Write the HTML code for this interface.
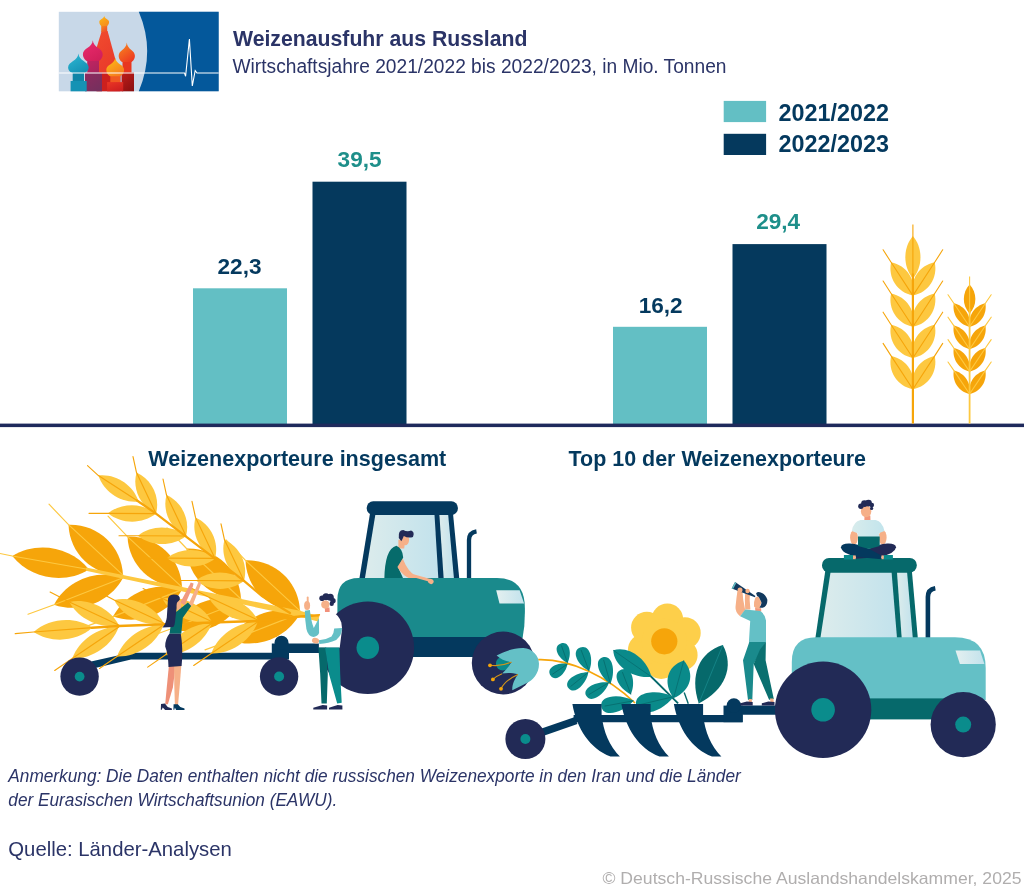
<!DOCTYPE html>
<html lang="de"><head><meta charset="utf-8"><title>Weizenausfuhr aus Russland</title>
<style>
html,body{margin:0;padding:0;background:#fff}
body{width:1024px;height:893px;overflow:hidden}
svg{display:block}
text{font-family:"Liberation Sans",sans-serif}
.b{font-weight:bold}
.i{font-style:italic}
</style></head><body>
<svg width="1024" height="893" viewBox="0 0 1024 893">
<defs>
<linearGradient id="glass" x1="0" x2="1" y1="0" y2="0"><stop offset="0" stop-color="#dcecec"/><stop offset="1" stop-color="#c2e2ec"/></linearGradient>
<linearGradient id="lamp" x1="0" x2="1" y1="0" y2="0"><stop offset="0" stop-color="#e4f0f0"/><stop offset="1" stop-color="#c2e2ec"/></linearGradient>
<linearGradient id="shirt" x1="0" x2="1" y1="0" y2="0"><stop offset="0" stop-color="#d8ecec"/><stop offset="1" stop-color="#c2e4ec"/></linearGradient>
</defs>
<rect width="1024" height="893" fill="#fff"/>

<rect x="58.8" y="11.8" width="159.9" height="79.5" fill="#c8d8e8"/>
<path d="M138.8,11.8Q155.6,51.5 138.8,91.3L218.7,91.3L218.7,11.8Z" fill="#04589b"/>
<defs><linearGradient id="gC" x1="0.2" y1="0" x2="0.8" y2="1"><stop offset="0" stop-color="#fdb714"/><stop offset="1" stop-color="#f58a1f"/></linearGradient><linearGradient id="gN" x1="0.2" y1="0" x2="0.8" y2="1"><stop offset="0" stop-color="#f58a1f"/><stop offset="1" stop-color="#ee4a2c"/></linearGradient><linearGradient id="gS" x1="0.2" y1="0" x2="0.8" y2="1"><stop offset="0" stop-color="#f04a2e"/><stop offset="1" stop-color="#e8382a"/></linearGradient><linearGradient id="gP" x1="0.2" y1="0" x2="0.8" y2="1"><stop offset="0" stop-color="#ea2a6c"/><stop offset="1" stop-color="#d01f5a"/></linearGradient><linearGradient id="gPt" x1="0.2" y1="0" x2="0.8" y2="1"><stop offset="0" stop-color="#c02460"/><stop offset="1" stop-color="#a8245e"/></linearGradient><linearGradient id="gPb" x1="0.2" y1="0" x2="0.8" y2="1"><stop offset="0" stop-color="#8e2a5e"/><stop offset="1" stop-color="#74305e"/></linearGradient><linearGradient id="gT" x1="0.2" y1="0" x2="0.8" y2="1"><stop offset="0" stop-color="#2cb6d2"/><stop offset="1" stop-color="#138eb2"/></linearGradient><linearGradient id="gY" x1="0.2" y1="0" x2="0.8" y2="1"><stop offset="0" stop-color="#fdbc14"/><stop offset="1" stop-color="#f47820"/></linearGradient><linearGradient id="gO" x1="0.2" y1="0" x2="0.8" y2="1"><stop offset="0" stop-color="#f8861e"/><stop offset="1" stop-color="#ec3622"/></linearGradient><linearGradient id="gOb" x1="0.2" y1="0" x2="0.8" y2="1"><stop offset="0" stop-color="#bc1c1a"/><stop offset="1" stop-color="#8c1010"/></linearGradient><linearGradient id="gYb" x1="0.2" y1="0" x2="0.8" y2="1"><stop offset="0" stop-color="#e83424"/><stop offset="1" stop-color="#cc1e20"/></linearGradient></defs>
<polygon points="101.7,31 107.6,31 115.7,60.6 118,73 96.5,73 96.9,46.7" fill="url(#gS)"/>
<rect x="96.5" y="72.5" width="24" height="18.8" fill="#cc201e"/>
<rect x="101.2" y="25" width="6" height="7" fill="url(#gN)"/>
<path d="M104.2,15.8C104.7,19.2 109.1,19.2 109.1,22C109.1,24.8 107.1,26 107.1,26L101.3,26C101.3,26 99.3,24.8 99.3,22C99.3,19.2 103.7,19.2 104.2,15.8Z" fill="url(#gC)"/>
<rect x="122.5" y="61" width="9" height="12" fill="#e8361f"/>
<rect x="121.6" y="72.5" width="12.4" height="18.8" fill="url(#gOb)"/>
<path d="M126.8,42.4C127.3,49.8 134.9,49.8 134.9,55.8C134.9,60.1 131.7,62 131.7,62L121.9,62C121.9,62 118.7,60.1 118.7,55.8C118.7,49.8 126.3,49.8 126.8,42.4Z" fill="url(#gO)"/>
<rect x="87.2" y="60" width="11.8" height="13" fill="url(#gPt)"/>
<rect x="85" y="72.5" width="17" height="18.8" fill="url(#gPb)"/>
<path d="M92.8,40.2C93.3,47.9 102.7,47.9 102.7,54.2C102.7,59 98.7,61 98.7,61L86.9,61C86.9,61 82.9,59 82.9,54.2C82.9,47.9 92.3,47.9 92.8,40.2Z" fill="url(#gP)"/>
<rect x="72.7" y="72" width="11.3" height="9.5" fill="#0f84a6"/>
<rect x="70.6" y="81" width="16.1" height="10.3" fill="#1592b4"/>
<path d="M78.4,53.5C78.9,61.3 88.7,61.3 88.7,67.6C88.7,71.4 84.6,73 84.6,73L72.2,73C72.2,73 68.1,71.4 68.1,67.6C68.1,61.3 77.9,61.3 78.4,53.5Z" fill="url(#gT)"/>
<rect x="110.3" y="75" width="9.7" height="8" fill="#f05a22"/>
<rect x="107.1" y="82.1" width="16.1" height="9.2" fill="url(#gYb)"/>
<path d="M115.2,57.4C115.7,64.2 124.1,64.2 124.1,69.8C124.1,74.3 120.5,76.2 120.5,76.2L109.9,76.2C109.9,76.2 106.3,74.3 106.3,69.8C106.3,64.2 114.7,64.2 115.2,57.4Z" fill="url(#gY)"/>
<polyline points="58.8,73 184.5,73 185.6,76.3 189.4,39 192.3,86 195.2,70.5 197,73 218.7,73" fill="none" stroke="#fff" stroke-width="1.1" stroke-linejoin="miter"/>
<text x="233" y="46.2" font-size="22.6" fill="#2b3467" class="b" textLength="294.5" lengthAdjust="spacingAndGlyphs">Weizenausfuhr aus Russland</text>
<text x="232.5" y="73.3" font-size="20" fill="#2b3467" textLength="494" lengthAdjust="spacingAndGlyphs">Wirtschaftsjahre 2021/2022 bis 2022/2023, in Mio. Tonnen</text>
<text x="148.3" y="466.1" font-size="22.6" fill="#04395e" class="b" textLength="298" lengthAdjust="spacingAndGlyphs">Weizenexporteure insgesamt</text>
<text x="568.5" y="466.1" font-size="22.6" fill="#04395e" class="b" textLength="297.5" lengthAdjust="spacingAndGlyphs">Top 10 der Weizenexporteure</text>
<text x="359.6" y="167" font-size="22.6" fill="#1e8f8a" class="b" text-anchor="middle">39,5</text>
<text x="239.5" y="274" font-size="22.6" fill="#04395e" class="b" text-anchor="middle">22,3</text>
<text x="778.2" y="229.3" font-size="22.6" fill="#1e8f8a" class="b" text-anchor="middle">29,4</text>
<text x="660.7" y="312.7" font-size="22.6" fill="#04395e" class="b" text-anchor="middle">16,2</text>
<text x="778.6" y="120.5" font-size="24" fill="#04395e" class="b" textLength="110.5" lengthAdjust="spacingAndGlyphs">2021/2022</text>
<text x="778.6" y="152.3" font-size="24" fill="#04395e" class="b" textLength="110.5" lengthAdjust="spacingAndGlyphs">2022/2023</text>
<text x="8.3" y="781.9" font-size="18.5" fill="#2b3467" class="i" textLength="732.5" lengthAdjust="spacingAndGlyphs">Anmerkung: Die Daten enthalten nicht die russischen Weizenexporte in den Iran und die Länder</text>
<text x="8.3" y="806.1" font-size="18.5" fill="#2b3467" class="i" textLength="329" lengthAdjust="spacingAndGlyphs">der Eurasischen Wirtschaftsunion (EAWU).</text>
<text x="8.3" y="855.7" font-size="21" fill="#2b3467" textLength="223.5" lengthAdjust="spacingAndGlyphs">Quelle: Länder-Analysen</text>
<text x="602.5" y="883.7" font-size="16.5" fill="#b0aeae" textLength="419" lengthAdjust="spacingAndGlyphs">© Deutsch-Russische Auslandshandelskammer, 2025</text>
<rect x="193" y="288.3" width="94" height="136.2" fill="#63bfc4"/>
<rect x="312.5" y="181.7" width="94" height="242.8" fill="#05395d"/>
<rect x="613" y="326.8" width="94" height="97.7" fill="#63bfc4"/>
<rect x="732.5" y="244.1" width="94" height="180.4" fill="#05395d"/>
<rect x="0" y="423.6" width="1024" height="3.5" fill="#1f2a5c"/>
<rect x="723.7" y="100.9" width="42.4" height="21.2" fill="#63bfc4"/>
<rect x="723.7" y="133.8" width="42.4" height="21.2" fill="#05395d"/>
<path d="M912.9,295.6C928.5,292.5 938.1,277.8 934.7,262.3C919.1,265.4 909.5,280.1 912.9,295.6Z" fill="#fdc840"/><polyline points="912.9,295.6 934.7,262.3 942.7,249.8" fill="none" stroke="#f6a50a" stroke-width="1.1" stroke-linecap="round"/>
<path d="M912.9,295.6C916.3,280.1 906.7,265.4 891.1,262.3C887.7,277.8 897.3,292.5 912.9,295.6Z" fill="#fdc840"/><polyline points="912.9,295.6 891.1,262.3 883.1,249.8" fill="none" stroke="#f6a50a" stroke-width="1.1" stroke-linecap="round"/>
<path d="M912.9,326.8C928.5,323.7 938.1,309 934.7,293.5C919.1,296.6 909.5,311.3 912.9,326.8Z" fill="#fdc840"/><polyline points="912.9,326.8 934.7,293.5 942.7,281" fill="none" stroke="#f6a50a" stroke-width="1.1" stroke-linecap="round"/>
<path d="M912.9,326.8C916.3,311.3 906.7,296.6 891.1,293.5C887.7,309 897.3,323.7 912.9,326.8Z" fill="#fdc840"/><polyline points="912.9,326.8 891.1,293.5 883.1,281" fill="none" stroke="#f6a50a" stroke-width="1.1" stroke-linecap="round"/>
<path d="M912.9,358C928.5,354.9 938.1,340.2 934.7,324.7C919.1,327.8 909.5,342.5 912.9,358Z" fill="#fdc840"/><polyline points="912.9,358 934.7,324.7 942.7,312.2" fill="none" stroke="#f6a50a" stroke-width="1.1" stroke-linecap="round"/>
<path d="M912.9,358C916.3,342.5 906.7,327.8 891.1,324.7C887.7,340.2 897.3,354.9 912.9,358Z" fill="#fdc840"/><polyline points="912.9,358 891.1,324.7 883.1,312.2" fill="none" stroke="#f6a50a" stroke-width="1.1" stroke-linecap="round"/>
<path d="M912.9,389.2C928.5,386.1 938.1,371.4 934.7,355.9C919.1,359 909.5,373.7 912.9,389.2Z" fill="#fdc840"/><polyline points="912.9,389.2 934.7,355.9 942.7,343.4" fill="none" stroke="#f6a50a" stroke-width="1.1" stroke-linecap="round"/>
<path d="M912.9,389.2C916.3,373.7 906.7,359 891.1,355.9C887.7,371.4 897.3,386.1 912.9,389.2Z" fill="#fdc840"/><polyline points="912.9,389.2 891.1,355.9 883.1,343.4" fill="none" stroke="#f6a50a" stroke-width="1.1" stroke-linecap="round"/>
<path d="M912.9,278.5C923,266.6 923,248 912.9,236.1C902.8,248 902.8,266.6 912.9,278.5Z" fill="#fdc840"/>
<line x1="912.9" y1="278.5" x2="912.9" y2="224.4" stroke="#f6a50a" stroke-width="1.1"/>
<line x1="912.9" y1="423.6" x2="912.9" y2="273.5" stroke="#f6a50a" stroke-width="2.2"/>
<path d="M969.6,326.8C980.4,324.5 987.3,314.1 985.4,303.2C974.6,305.5 967.7,315.9 969.6,326.8Z" fill="#f6a50a"/><polyline points="969.6,326.8 985.4,303.2 991.2,294.8" fill="none" stroke="#fdc840" stroke-width="1.1" stroke-linecap="round"/>
<path d="M969.6,326.8C971.5,315.9 964.6,305.5 953.8,303.2C951.9,314.1 958.8,324.5 969.6,326.8Z" fill="#f6a50a"/><polyline points="969.6,326.8 953.8,303.2 948,294.8" fill="none" stroke="#fdc840" stroke-width="1.1" stroke-linecap="round"/>
<path d="M969.6,349.2C980.4,346.9 987.3,336.5 985.4,325.6C974.6,327.9 967.7,338.3 969.6,349.2Z" fill="#f6a50a"/><polyline points="969.6,349.2 985.4,325.6 991.2,317.2" fill="none" stroke="#fdc840" stroke-width="1.1" stroke-linecap="round"/>
<path d="M969.6,349.2C971.5,338.3 964.6,327.9 953.8,325.6C951.9,336.5 958.8,346.9 969.6,349.2Z" fill="#f6a50a"/><polyline points="969.6,349.2 953.8,325.6 948,317.2" fill="none" stroke="#fdc840" stroke-width="1.1" stroke-linecap="round"/>
<path d="M969.6,371.6C980.4,369.3 987.3,358.9 985.4,348C974.6,350.3 967.7,360.7 969.6,371.6Z" fill="#f6a50a"/><polyline points="969.6,371.6 985.4,348 991.2,339.6" fill="none" stroke="#fdc840" stroke-width="1.1" stroke-linecap="round"/>
<path d="M969.6,371.6C971.5,360.7 964.6,350.3 953.8,348C951.9,358.9 958.8,369.3 969.6,371.6Z" fill="#f6a50a"/><polyline points="969.6,371.6 953.8,348 948,339.6" fill="none" stroke="#fdc840" stroke-width="1.1" stroke-linecap="round"/>
<path d="M969.6,394C980.4,391.7 987.3,381.3 985.4,370.4C974.6,372.7 967.7,383.1 969.6,394Z" fill="#f6a50a"/><polyline points="969.6,394 985.4,370.4 991.2,362" fill="none" stroke="#fdc840" stroke-width="1.1" stroke-linecap="round"/>
<path d="M969.6,394C971.5,383.1 964.6,372.7 953.8,370.4C951.9,381.3 958.8,391.7 969.6,394Z" fill="#f6a50a"/><polyline points="969.6,394 953.8,370.4 948,362" fill="none" stroke="#fdc840" stroke-width="1.1" stroke-linecap="round"/>
<path d="M969.6,313.7C977.3,305.6 977.3,292.7 969.6,284.6C961.9,292.7 961.9,305.6 969.6,313.7Z" fill="#f6a50a"/>
<line x1="969.6" y1="313.7" x2="969.6" y2="276.5" stroke="#fdc840" stroke-width="1.1"/>
<line x1="969.6" y1="423.6" x2="969.6" y2="308.7" stroke="#fdc840" stroke-width="1.8"/>
<path d="M300,613.4C274.1,604.2 243.8,616.1 231,640.4C256.9,649.6 287.2,637.7 300,613.4Z" fill="#f6a50a"/><polyline points="300,613.4 231,640.4 205,649.9" fill="none" stroke="#fdc840" stroke-width="1.15" stroke-linecap="round"/>
<path d="M300,610.9C298.8,581.6 274.8,559.4 245.5,560.4C246.7,589.7 270.7,611.9 300,610.9Z" fill="#f6a50a"/><polyline points="300,610.9 245.5,560.4 226,539.9" fill="none" stroke="#fdc840" stroke-width="1.15" stroke-linecap="round"/>
<path d="M241,601.5C215.1,592.3 184.8,604.2 172,628.5C197.9,637.7 228.2,625.8 241,601.5Z" fill="#f6a50a"/><polyline points="241,601.5 172,628.5 146,638" fill="none" stroke="#fdc840" stroke-width="1.15" stroke-linecap="round"/>
<path d="M241,599C239.8,569.7 215.8,547.5 186.5,548.5C187.7,577.8 211.7,600 241,599Z" fill="#f6a50a"/><polyline points="241,599 186.5,548.5 167,528" fill="none" stroke="#fdc840" stroke-width="1.15" stroke-linecap="round"/>
<path d="M182,589.6C156.1,580.4 125.8,592.3 113,616.6C138.9,625.8 169.2,613.9 182,589.6Z" fill="#f6a50a"/><polyline points="182,589.6 113,616.6 87,626.1" fill="none" stroke="#fdc840" stroke-width="1.15" stroke-linecap="round"/>
<path d="M182,587.1C180.8,557.8 156.8,535.6 127.5,536.6C128.7,565.9 152.7,588.1 182,587.1Z" fill="#f6a50a"/><polyline points="182,587.1 127.5,536.6 108,516.1" fill="none" stroke="#fdc840" stroke-width="1.15" stroke-linecap="round"/>
<path d="M123,577.7C97.1,568.5 66.8,580.4 54,604.7C79.9,613.9 110.2,602.1 123,577.7Z" fill="#f6a50a"/><polyline points="123,577.7 54,604.7 28,614.2" fill="none" stroke="#fdc840" stroke-width="1.15" stroke-linecap="round"/>
<path d="M123,575.2C121.8,545.9 97.8,523.7 68.5,524.7C69.7,554 93.7,576.3 123,575.2Z" fill="#f6a50a"/><polyline points="123,575.2 68.5,524.7 49,504.2" fill="none" stroke="#fdc840" stroke-width="1.15" stroke-linecap="round"/>
<path d="M89,569.5C70.9,546.7 37.1,540.7 12.3,556C30.4,578.8 64.2,584.8 89,569.5Z" fill="#f6a50a"/><polyline points="89,569.5 12.3,556 0,553.5" fill="none" stroke="#fdc840" stroke-width="1.15" stroke-linecap="round"/><path d="M86,567.6 300,610.8 319.5,616.4 318.8,621.8 300,616.8 86,570.8Z" fill="#fdc840"/>
<polygon points="91,661.5 130,652.7 285,652.7 285,659.6 131,659.6 93,668.5" fill="#04395e"/>
<rect x="271.8" y="643.5" width="17.2" height="16" fill="#04395e"/><circle cx="281.5" cy="642.7" r="7" fill="#04395e"/>
<rect x="285" y="643.5" width="60" height="9.5" fill="#04395e"/>
<path d="M244,580.8C230.6,569.7 209.5,569.6 196,580.5C209.4,591.6 230.5,591.7 244,580.8Z" fill="#fdc840"/><polyline points="244,580.8 196,580.5 177,580.5" fill="none" stroke="#f6a50a" stroke-width="1.15" stroke-linecap="round"/>
<path d="M244,580.8C248.5,564.6 239.9,546.6 224.5,539.8C220,556 228.6,574 244,580.8Z" fill="#fdc840"/><polyline points="244,580.8 224.5,539.8 221,523.8" fill="none" stroke="#f6a50a" stroke-width="1.15" stroke-linecap="round"/>
<path d="M215,558.4C201.6,547.3 180.5,547.2 167,558.1C180.4,569.2 201.5,569.3 215,558.4Z" fill="#fdc840"/><polyline points="215,558.4 167,558.1 148,558.1" fill="none" stroke="#f6a50a" stroke-width="1.15" stroke-linecap="round"/>
<path d="M215,558.4C219.5,542.2 210.9,524.2 195.5,517.4C191,533.6 199.6,551.6 215,558.4Z" fill="#fdc840"/><polyline points="215,558.4 195.5,517.4 192,501.4" fill="none" stroke="#f6a50a" stroke-width="1.15" stroke-linecap="round"/>
<path d="M186,536C172.6,524.9 151.5,524.8 138,535.7C151.4,546.8 172.5,546.9 186,536Z" fill="#fdc840"/><polyline points="186,536 138,535.7 119,535.7" fill="none" stroke="#f6a50a" stroke-width="1.15" stroke-linecap="round"/>
<path d="M186,536C190.5,519.8 181.9,501.8 166.5,495C162,511.2 170.6,529.2 186,536Z" fill="#fdc840"/><polyline points="186,536 166.5,495 163,479" fill="none" stroke="#f6a50a" stroke-width="1.15" stroke-linecap="round"/>
<path d="M156,513.6C142.6,502.5 121.5,502.4 108,513.3C121.4,524.4 142.5,524.5 156,513.6Z" fill="#fdc840"/><polyline points="156,513.6 108,513.3 89,513.3" fill="none" stroke="#f6a50a" stroke-width="1.15" stroke-linecap="round"/>
<path d="M156,513.6C160.5,497.4 151.9,479.4 136.5,472.6C132,488.8 140.6,506.8 156,513.6Z" fill="#fdc840"/><polyline points="156,513.6 136.5,472.6 133,456.6" fill="none" stroke="#f6a50a" stroke-width="1.15" stroke-linecap="round"/>
<path d="M138.5,501.5C133.2,485 115.6,473.6 98.4,475.6C103.7,492.1 121.3,503.5 138.5,501.5Z" fill="#fdc840"/><polyline points="138.5,501.5 98.4,475.6 87.5,465.6" fill="none" stroke="#f6a50a" stroke-width="1.15" stroke-linecap="round"/>
<polyline points="137,500.5 156,513.6 244,580.8 262,596 290,613" fill="none" stroke="#f6a50a" stroke-width="2.3" stroke-linecap="round"/>
<path d="M257.7,622C238.1,621.2 217.7,635 211.2,653.5C230.8,654.3 251.2,640.5 257.7,622Z" fill="#fdc840"/><polyline points="257.7,622 211.2,653.5 193.7,665.5" fill="none" stroke="#f6a50a" stroke-width="1.15" stroke-linecap="round"/>
<path d="M257.7,620C248.8,603 227.1,592.9 208.4,597C217.3,614 239,624.1 257.7,620Z" fill="#fdc840"/><polyline points="257.7,620 208.4,597 189.1,587" fill="none" stroke="#f6a50a" stroke-width="1.15" stroke-linecap="round"/>
<path d="M211.7,623.6C192.1,622.8 171.7,636.6 165.2,655.1C184.8,655.9 205.2,642.1 211.7,623.6Z" fill="#fdc840"/><polyline points="211.7,623.6 165.2,655.1 147.7,667.1" fill="none" stroke="#f6a50a" stroke-width="1.15" stroke-linecap="round"/>
<path d="M211.7,621.6C202.8,604.6 181.1,594.5 162.4,598.6C171.3,615.6 193,625.7 211.7,621.6Z" fill="#fdc840"/><polyline points="211.7,621.6 162.4,598.6 143.1,588.6" fill="none" stroke="#f6a50a" stroke-width="1.15" stroke-linecap="round"/>
<path d="M163.5,625C143.9,624.2 123.5,638 117,656.5C136.6,657.3 157,643.5 163.5,625Z" fill="#fdc840"/><polyline points="163.5,625 117,656.5 99.5,668.5" fill="none" stroke="#f6a50a" stroke-width="1.15" stroke-linecap="round"/>
<path d="M163.5,623C154.6,606 132.9,595.9 114.2,600C123.1,617 144.8,627.1 163.5,623Z" fill="#fdc840"/><polyline points="163.5,623 114.2,600 94.9,590" fill="none" stroke="#f6a50a" stroke-width="1.15" stroke-linecap="round"/>
<path d="M118.7,627C99.1,626.2 78.7,640 72.2,658.5C91.8,659.3 112.2,645.5 118.7,627Z" fill="#fdc840"/><polyline points="118.7,627 72.2,658.5 54.7,670.5" fill="none" stroke="#f6a50a" stroke-width="1.15" stroke-linecap="round"/>
<path d="M118.7,625C109.8,608 88.1,597.9 69.4,602C78.3,619 100,629.1 118.7,625Z" fill="#fdc840"/><polyline points="118.7,625 69.4,602 50.1,592" fill="none" stroke="#f6a50a" stroke-width="1.15" stroke-linecap="round"/>
<path d="M92.5,627.6C75,615.9 49.1,617.8 33.6,632C51.1,643.7 77,641.8 92.5,627.6Z" fill="#fdc840"/><polyline points="92.5,627.6 33.6,632 15.2,633.6" fill="none" stroke="#f6a50a" stroke-width="1.15" stroke-linecap="round"/>
<polyline points="92,627.8 118.7,626 211.7,622.6 257.7,621 300,616.6 319.5,615.3" fill="none" stroke="#f6a50a" stroke-width="2.5" stroke-linecap="round"/>
<circle cx="79.6" cy="676.6" r="19.2" fill="#222a56"/><circle cx="79.6" cy="676.6" r="4.9" fill="#0a8c8c"/>
<circle cx="279.1" cy="676.5" r="19.2" fill="#222a56"/><circle cx="279.1" cy="676.5" r="5" fill="#0a8c8c"/>
<path d="M469,579L469,540Q469,532.5 476.5,531.3" fill="none" stroke="#04395e" stroke-width="4.3"/>
<polygon points="370,513.4 453,513.4 459.3,578.9 359.3,578.9" fill="#04395e"/>
<polygon points="375.3,515 434.5,515 438.4,578.9 364.8,578.9" fill="url(#glass)"/>
<polygon points="439.4,515 448.2,515 454,578.9 443.7,578.9" fill="url(#glass)"/>
<rect x="366.7" y="501.3" width="91.2" height="13.7" rx="6.5" fill="#04395e"/>
<polygon points="398.4,539.8 405.2,539.8 404.2,548.6 398.4,548.6" fill="#f6b088"/>
<ellipse cx="405.2" cy="539.8" rx="3.9" ry="5.5" fill="#f6b088"/>
<path d="M 398.8,537.9 Q 398,530 403.2,530 Q 407.1,532 411.1,530.6 Q 415,532 413,536.9 Q 408.1,538.4 403.8,535.9 Q 402.7,538.8 401.3,541.2 Z" fill="#222a56"/>
<path d="M 384.3,579.8 Q 384.7,548.6 396.4,545.7 Q 402.7,548.6 403.2,557.4 L 398.4,568.1 L 403.8,579.8 Z" fill="#066b6b"/>
<path d="M 402.7,558.4 Q 408.1,572 415.9,575.9 L 430.6,578.9 Q 434.5,581.8 432,584.7 L 427.7,581.8 L 412,579.8 Q 402.3,575.9 397.4,567.1 Z" fill="#f6b088"/>
<path d="M337.4,638L337.4,600Q337.4,578 359,578L497,578Q524.9,578 524.9,608L524.9,612Q524.9,626 522.6,638Z" fill="#1a8a8c"/>
<rect x="345" y="637" width="165" height="20" fill="#04395e"/>
<polygon points="496.2,590.3 519.6,590.3 524.1,603.4 499.5,603.4" fill="url(#lamp)"/>
<polyline points="414,575.9 430,580.4" fill="none" stroke="#f6b088" stroke-width="2.9" stroke-linecap="round" stroke-linejoin="round"/>
<ellipse cx="430.8" cy="581.4" rx="2.9" ry="2.5" fill="#f6b088" transform="rotate(30 430.8 581.4)"/>
<circle cx="367.8" cy="647.8" r="46.3" fill="#222a56"/><circle cx="367.8" cy="647.8" r="11.3" fill="#0a8c8c"/>
<circle cx="503.2" cy="663" r="31.4" fill="#222a56"/><circle cx="503.2" cy="663" r="0" fill="#0a8c8c"/>
<polygon points="180.3,602.6 184.6,605.4 192.8,586.8 193.6,583.6 190.7,582.5 189.5,585.2" fill="#f09a80"/>
<polygon points="188.6,604.2 192.3,606.2 200.6,585.2 201,582.5 198.5,581.7 197.4,584.4" fill="#f6b088"/>
<ellipse cx="178.8" cy="605.4" rx="2.5" ry="4.9" fill="#f6b088"/>
<polygon points="177.4,611.1 187.9,602.5 191.2,606 182.8,617.7 181.3,633.7 169.5,633.7 170.7,625.2 175,612.6" fill="#066a68"/>
<path d="M 167.9,600.9 Q 167.5,594.6 173.8,594.5 Q 180.3,594.6 179.9,599.5 L 178.4,601.3 Q 176.2,602.1 176.6,607.9 L 175,622.1 Q 174.6,626 173.4,626.9 L 162.5,627.4 Q 166,623.6 166.8,617.4 Z" fill="#222a56"/>
<polygon points="168.9,665.7 175.6,665.7 172.9,687.5 167.9,704.3 165.2,704.3 166.9,685.9" fill="#ee9078"/>
<polygon points="174.1,665.7 181.3,665.7 179.6,687.5 178,705.2 174.9,705.2 174.3,685.9" fill="#f6b088"/>
<path d="M 169.4,633.8 L 180.8,633.8 Q 183.3,648.9 181.6,666.1 L 168.5,666.9 Q 168.2,654 165.2,646.4 Q 165.2,638.8 169.4,633.8 Z" fill="#222a56"/>
<polygon points="161,704 164.9,703.5 167.7,706.9 171.9,708.5 171.9,710.1 165.2,710.1 162.7,707.4 161.8,709.7 160.8,709.7" fill="#222a56"/>
<polygon points="173.6,704.3 177.8,704.3 180.3,706.9 184.5,708.5 184.5,710.1 176.1,710.1 174.9,707.4 174.3,709.7 173.4,709.7" fill="#04395e"/>
<path d="M 320.9,612.1 L 331.9,611.7 Q 338.9,614.8 341.3,622.6 L 342.1,628.9 L 339.7,647.7 L 318.9,647.7 L 318.9,617.9 Z" fill="#fff"/>
<polygon points="324.8,607.4 329.5,607.4 329.7,612.1 325,612.1" fill="#f2907a"/>
<circle cx="322.1" cy="598.2" r="2.8" fill="#222a56"/>
<circle cx="326" cy="596.8" r="3.5" fill="#222a56"/>
<circle cx="330.3" cy="597.2" r="3.5" fill="#222a56"/>
<circle cx="333" cy="600.7" r="2.7" fill="#222a56"/>
<circle cx="331.7" cy="603.8" r="2.2" fill="#222a56"/>
<ellipse cx="325.3" cy="604.6" rx="4.1" ry="4.1" fill="#f6b088"/>
<path d="M 304.8,610.7 L 309.9,610.1 Q 311.1,621.9 313.8,628 L 318.9,618.3 L 319.1,633 Q 317.4,636.8 313.4,636.9 Q 307.9,636 306.4,628.9 Q 305,620.3 304.8,610.7 Z" fill="#64c0c6"/>
<polyline points="307.7,597.5 307.7,603" fill="none" stroke="#f6b088" stroke-width="1.9" stroke-linecap="round" stroke-linejoin="round"/>
<ellipse cx="307.1" cy="605.5" rx="3" ry="4.5" fill="#f6b088"/>
<path d="M 334.2,628.6 L 342.1,628.1 Q 342.1,635.2 336.2,639.9 Q 328.7,643.4 319.3,644 L 318.9,640.3 Q 326.4,639.5 331.5,636.4 Q 334.1,632.8 334.2,628.6 Z" fill="#64c0c6"/>
<ellipse cx="315.5" cy="640.7" rx="3.6" ry="2.7" fill="#f6b088" transform="rotate(15 315.5 640.7)"/>
<polygon points="318.4,647.5 326.2,647.5 327.8,674.1 326.8,703.5 321.5,703.5 320.2,674.1" fill="#06696b"/>
<polygon points="325.1,647.5 339.4,647.5 340.2,674.1 341.7,702.7 337.2,703.5 329,674.1" fill="#0a8c8c"/>
<polygon points="313.3,707.8 322.7,704.9 327.1,705.5 327.1,709.6 313.3,709.6" fill="#222a56"/>
<polygon points="329,707.8 337.6,704.9 342.4,705.5 342.4,709.6 329,709.6" fill="#222a56"/>
<path d="M 538.2,659.7 C 571,658.7 607.9,677.2 635,703" fill="none" stroke="#f6a50a" stroke-width="1.7"/>
<path d="M567.5,662.8C572.3,653.6 569.4,640.5 560.8,643.5C552.1,646.6 558.1,658.6 567.5,662.8Z" fill="#0a8a8a"/><line x1="567.5" y1="662.8" x2="561.4" y2="645.5" stroke="#06696b" stroke-width="0.8"/>
<path d="M567.5,664C557.5,662 545.5,668.1 550.5,675.5C555.5,682.9 565.6,674.1 567.5,664Z" fill="#0a8a8a"/><line x1="567.5" y1="664" x2="552.2" y2="674.4" stroke="#06696b" stroke-width="0.8"/>
<path d="M589.1,671C593.9,659.8 590,644 580.2,647.6C570.5,651.3 578,665.8 589.1,671Z" fill="#0a8a8a"/><line x1="589.1" y1="671" x2="581.1" y2="650" stroke="#06696b" stroke-width="0.8"/>
<path d="M588.4,672.2C576.6,671.8 562.6,680.8 568.6,688.2C574.5,695.6 586.4,683.9 588.4,672.2Z" fill="#0a8a8a"/><line x1="588.4" y1="672.2" x2="570.5" y2="686.6" stroke="#06696b" stroke-width="0.8"/>
<path d="M610.4,683.7C615.9,672.1 612.8,654.4 602.8,657.3C592.8,660.1 599.6,676.8 610.4,683.7Z" fill="#0a8a8a"/><line x1="610.4" y1="683.7" x2="603.6" y2="659.9" stroke="#06696b" stroke-width="0.8"/>
<path d="M609,682.5C597.1,680.6 581.5,687.9 586.4,696C591.3,704.2 605.1,693.9 609,682.5Z" fill="#0a8a8a"/><line x1="609" y1="682.5" x2="588.7" y2="694.7" stroke="#06696b" stroke-width="0.8"/>
<circle cx="667.4" cy="619.3" r="15.8" fill="#fdcf4a"/>
<circle cx="684.9" cy="633" r="15.8" fill="#fdcf4a"/>
<circle cx="681.8" cy="654.9" r="15.8" fill="#fdcf4a"/>
<circle cx="661.2" cy="663.2" r="15.8" fill="#fdcf4a"/>
<circle cx="643.8" cy="649.6" r="15.8" fill="#fdcf4a"/>
<circle cx="646.9" cy="627.6" r="15.8" fill="#fdcf4a"/>
<circle cx="664.3" cy="641.3" r="22.6" fill="#fdcf4a"/>
<circle cx="664.3" cy="641.3" r="13.1" fill="#f6a50a"/>
<path d="M698.8,703.4C725,690.3 734.6,666.9 722.8,645C698.9,652.3 689.4,675.6 698.8,703.4Z" fill="#06696b"/><line x1="698.8" y1="703.4" x2="722.8" y2="645" stroke="#1a8e90" stroke-width="0.7"/>
<polyline points="650,675.5 678.1,703.4" fill="none" stroke="#06696b" stroke-width="1.8" stroke-linecap="butt" stroke-linejoin="round"/>
<polyline points="684.2,692.6 688.3,703.8" fill="none" stroke="#06696b" stroke-width="1.4" stroke-linecap="butt" stroke-linejoin="round"/>
<path d="M630.9,694.4C636.2,682.4 632,665.6 621.5,669.6C610.9,673.6 619,689 630.9,694.4Z" fill="#0a8a8a"/><line x1="630.9" y1="694.4" x2="622.4" y2="672.1" stroke="#06696b" stroke-width="0.8"/>
<path d="M651.4,676.8C647.1,658.5 628.1,645.3 613.3,650.3C613.7,665.9 632.8,679.2 651.4,676.8Z" fill="#0a8a8a"/><line x1="651.4" y1="676.8" x2="613.3" y2="650.3" stroke="#06696b" stroke-width="0.7"/>
<path d="M673.6,698.1C690.9,690.6 695.5,673.7 683.8,660.4C667,665.9 662.4,682.9 673.6,698.1Z" fill="#0a8a8a"/><line x1="673.6" y1="698.1" x2="683.8" y2="660.4" stroke="#06696b" stroke-width="0.7"/>
<path d="M673.6,696.7C657.8,688.4 633,691.6 636.2,705.5C639.5,719.3 663.2,711.1 673.6,696.7Z" fill="#0a8a8a"/><line x1="673.6" y1="696.7" x2="640" y2="704.6" stroke="#06696b" stroke-width="0.8"/>
<path d="M633.6,700.8C620.5,693.3 599.2,695 601.4,706.7C603.5,718.4 624.1,712.4 633.6,700.8Z" fill="#0a8a8a"/><line x1="633.6" y1="700.8" x2="604.6" y2="706.1" stroke="#06696b" stroke-width="0.8"/>
<polyline points="525.4,738.2 576.2,720.5" fill="none" stroke="#04395e" stroke-width="7.6" stroke-linecap="butt" stroke-linejoin="round"/>
<polygon points="573.6,714.9 742.5,714.9 742.5,722.2 573.6,722.2" fill="#04395e"/>
<polygon points="723.5,705.6 742.8,705.6 742.8,722.2 723.5,722.2" fill="#04395e"/>
<circle cx="733.9" cy="705.6" r="7.3" fill="#04395e"/>
<polygon points="741.2,705.6 781.9,705.6 781.9,714.7 741.2,714.7" fill="#04395e"/>
<path d="M 572.4,704 L 601.6,704 L 601.6,714.9 Q 604.4,740.8 619.9,756.5 L 610.5,756.5 C 590.1,748.9 576.4,728.1 572.4,704 Z" fill="#04395e"/>
<path d="M 621.4,704 L 650.6,704 L 650.6,714.9 Q 653.4,740.8 668.9,756.5 L 659.5,756.5 C 639.2,748.9 625.4,728.1 621.4,704 Z" fill="#04395e"/>
<path d="M 673.9,704 L 703.1,704 L 703.1,714.9 Q 705.9,740.8 721.4,756.5 L 712,756.5 C 691.7,748.9 678,728.1 673.9,704 Z" fill="#04395e"/>
<circle cx="525.4" cy="739" r="20" fill="#222a56"/><circle cx="525.4" cy="739" r="5" fill="#0a8c8c"/>
<path d="M927.9,638L927.9,597Q927.9,589.5 935.3,588.3" fill="none" stroke="#04395e" stroke-width="4.6"/>
<polygon points="825.4,570.1 911.8,570.1 917.8,637.9 815.4,637.9" fill="#06696b"/>
<polygon points="830.5,572.4 891.6,572.4 897,637.9 820.4,637.9" fill="url(#glass)"/>
<polygon points="897,572.4 907.1,572.4 912.8,637.9 901.7,637.9" fill="url(#glass)"/>
<rect x="822" y="558" width="94.8" height="14.6" rx="7" fill="#06696b"/>
<path d="M791.8,700L791.8,662Q791.8,637.3 816,637.3L955,637.3Q985.7,637.3 985.7,668L985.7,700Z" fill="#64c0c6"/>
<rect x="800" y="698.4" width="170" height="21" fill="#06696b"/>
<polygon points="955.5,650.4 980,650.4 984.4,664.1 959.9,664.1" fill="url(#lamp)"/>
<circle cx="823.1" cy="709.8" r="48.2" fill="#222a56"/><circle cx="823.1" cy="709.8" r="11.8" fill="#0a8c8c"/>
<circle cx="963.2" cy="724.6" r="32.6" fill="#222a56"/><circle cx="963.2" cy="724.6" r="8" fill="#0a8c8c"/>
<ellipse cx="854" cy="537.5" rx="3.9" ry="7.3" fill="#f6b088"/>
<ellipse cx="882.7" cy="537.5" rx="3.9" ry="7.3" fill="#f6b088"/>
<polygon points="864.5,515.5 870.3,515.5 870.5,521.4 864.3,521.4" fill="#f2987c"/>
<ellipse cx="866.1" cy="511.3" rx="5.2" ry="5.9" fill="#f6b088"/>
<circle cx="860.9" cy="506.3" r="2.7" fill="#222a56"/>
<circle cx="864.5" cy="503.6" r="3.4" fill="#222a56"/>
<circle cx="868.5" cy="503.1" r="3.4" fill="#222a56"/>
<circle cx="871.8" cy="505.1" r="2.3" fill="#222a56"/>
<circle cx="871.6" cy="508.4" r="1.6" fill="#222a56"/>
<path d="M 851.8,531 Q 853.5,521.4 860.5,520 L 875.7,520 Q 882.4,521.4 884.4,531 L 878.8,533.2 L 879.5,537 L 858,537 L 857.6,533.2 Z" fill="url(#shirt)"/>
<path d="M 896,547.3 Q 895.6,543.3 887.3,543.6 Q 878.4,544.2 868.5,549.1 L 856,555.4 L 855.5,558.8 L 880.2,557 Q 895.4,553.2 896,547.3 Z" fill="#222a56"/>
<path d="M 841,547.3 Q 841.5,543.3 849.7,543.6 Q 859.6,544.2 869.4,549.1 L 881.3,555.4 L 881.7,559.2 L 856.9,557 Q 841.6,553.2 841,547.3 Z" fill="#04395e"/>
<polygon points="858,536.6 879.7,536.6 879.7,546 869,549.1 858,546" fill="#06696b"/>
<polygon points="852.8,555.4 855.7,555.4 855.7,559.2 852.8,559.2" fill="#f6b088"/>
<polygon points="881.5,555.4 883.9,555.4 883.9,559.2 881.5,559.2" fill="#f6b088"/>
<polygon points="843.9,555 853,555 853,559.5 843.9,559.5" fill="#0a8a8c"/>
<polygon points="883.8,555 892.9,555 892.9,559.5 883.8,559.5" fill="#0a8a8c"/>
<path d="M 737.6,589.7 L 742.2,589.1 Q 742.8,600.2 745.2,609.9 L 740.1,616.2 Q 735.1,612 735.5,606.9 Q 736.3,598.5 737.6,589.7 Z" fill="#f6b088"/>
<path d="M 745.2,591.4 L 749.9,590.8 Q 749.2,600.2 750.4,609.6 L 745.2,609.6 Q 744.5,600.2 745.2,591.4 Z" fill="#f6b088"/>
<polygon points="755.1,607.8 761.1,608.2 761.3,611.6 755.3,611.1" fill="#f2987c"/>
<path d="M 755.4,597.5 Q 757.4,596.4 758.8,597 L 761.3,602.3 L 759.6,608.8 Q 756.1,609.5 754,606.5 Q 753.2,602.7 755.4,597.5 Z" fill="#f6b088"/>
<path d="M 756.1,593.3 Q 757.8,591.4 760.7,592.5 Q 765.3,593.9 767.3,599.4 Q 767.7,604.4 764.5,606.9 Q 762,608.2 759.5,607.4 Q 762,604 761.3,602.1 L 758.8,597 Q 756.3,596 756.1,593.3 Z" fill="#12395e"/>
<polygon points="735.1,582.1 755.4,596 754.9,597.2 731.7,588.4" fill="#12395e"/>
<polygon points="735.1,582.1 736.3,582.9 733.1,589.1 731.7,588.4" fill="#64c0c6"/>
<circle cx="740" cy="590" r="2.5" fill="#f6b088"/>
<circle cx="747.5" cy="591" r="2.2" fill="#f6b088"/>
<path d="M 740.1,616.2 L 745.2,609.6 L 760.3,611.1 Q 765.3,614.5 766,620.4 L 766,642.4 L 748.9,642.4 L 750.2,621.1 Z" fill="#64c0c6"/>
<polygon points="749.3,642 765.9,642 753.7,663.9 752.3,700.1 748,700.1 743,660.3" fill="#1a8a8c"/>
<polygon points="765.9,642 765.6,660.3 773.8,699 769.1,699.7 753.7,663.9 760,649.6" fill="#0a7070"/>
<polygon points="748.7,699 751.9,699 751.9,702.6 748.7,702.6" fill="#f6b088"/>
<polygon points="769.9,698.6 773.4,698.6 773.8,702.6 770.6,702.6" fill="#f6b088"/>
<polygon points="740.3,703.3 746.9,701.5 752.7,702 752.7,705.6 740.3,705.6" fill="#222a56"/>
<polygon points="761.8,703.3 768.4,701.5 774.5,702 774.5,705.6 761.8,705.6" fill="#222a56"/>
<circle cx="502.8" cy="663.7" r="6.9" fill="#0a8a8c"/>
<path d="M 496.6,655.5 C 504.5,651.6 513.9,647.6 523.3,647.9 C 532.7,648.4 539,655.9 539,663.7 C 539,673.9 532.7,680.2 526.4,683.3 L 512.3,690.3 C 511.9,684.9 514.7,678.6 518.2,674.3 C 512.3,672.7 506.8,672.7 502.1,673.5 C 506.1,670 509.2,666.1 511.5,662.1 C 506.1,661.3 500.6,659.4 496.6,655.5 Z" fill="#64c0c6"/>
<path d="M511.5,662Q501.3,666.8 490,665.3" fill="none" stroke="#d3951a" stroke-width="1.1"/>
<circle cx="490" cy="665.3" r="1.9" fill="#f6a50a"/>
<path d="M502.1,673.7Q496.6,675.8 492.9,679.4" fill="none" stroke="#d3951a" stroke-width="1.1"/>
<circle cx="492.9" cy="679.4" r="1.9" fill="#f6a50a"/>
<path d="M518,674.5Q505.3,680.2 501,688.8" fill="none" stroke="#d3951a" stroke-width="1.1"/>
<circle cx="501" cy="688.8" r="1.9" fill="#f6a50a"/>
</svg></body></html>
